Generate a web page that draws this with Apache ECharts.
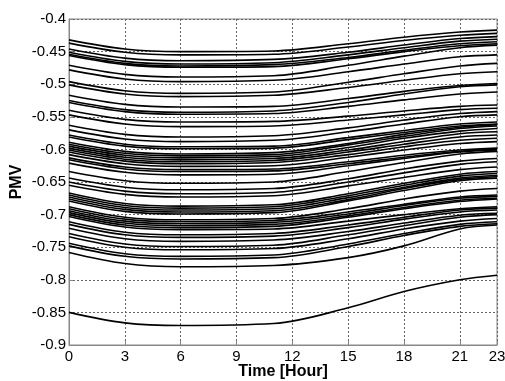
<!DOCTYPE html>
<html>
<head>
<meta charset="utf-8">
<script src="https://cdn.jsdelivr.net/npm/echarts@6/dist/echarts.min.js"></script>
<style>
html,body{margin:0;padding:0;background:#fff;}
#chart{width:505px;height:381px;}
</style>
</head>
<body>
<div id="chart"></div>
<script>
const hours = [0, 3, 6, 11, 15, 18, 21, 23];
const xTicks = [0, 3, 6, 9, 12, 15, 18, 21, 23];
const yMin = -0.9, yMax = -0.4, yStep = 0.05;

// PMV values of each curve, read at the hours above
const pmv01 = [-0.432,-0.446,-0.450,-0.449,-0.438,-0.428,-0.420,-0.417];
const pmv02 = [-0.437,-0.451,-0.455,-0.454,-0.443,-0.433,-0.425,-0.422];
const pmv03 = [-0.446,-0.460,-0.464,-0.462,-0.451,-0.440,-0.430,-0.427];
const pmv04 = [-0.451,-0.465,-0.469,-0.467,-0.455,-0.444,-0.434,-0.431];
const pmv05 = [-0.454,-0.468,-0.472,-0.470,-0.459,-0.448,-0.438,-0.435];
const pmv06 = [-0.456,-0.470,-0.474,-0.473,-0.461,-0.450,-0.441,-0.438];
const pmv07 = [-0.471,-0.485,-0.489,-0.487,-0.471,-0.457,-0.444,-0.440];
const pmv08 = [-0.478,-0.492,-0.496,-0.494,-0.481,-0.469,-0.458,-0.455];
const pmv09 = [-0.496,-0.510,-0.514,-0.512,-0.497,-0.484,-0.472,-0.468];
const pmv10 = [-0.501,-0.515,-0.519,-0.517,-0.505,-0.494,-0.484,-0.481];
const pmv11 = [-0.517,-0.531,-0.535,-0.534,-0.522,-0.511,-0.502,-0.499];
const pmv12 = [-0.525,-0.539,-0.543,-0.541,-0.528,-0.515,-0.504,-0.501];
const pmv13 = [-0.528,-0.542,-0.546,-0.545,-0.534,-0.524,-0.515,-0.512];
const pmv14 = [-0.540,-0.554,-0.558,-0.557,-0.549,-0.541,-0.534,-0.532];
const pmv15 = [-0.547,-0.561,-0.565,-0.564,-0.555,-0.547,-0.539,-0.537];
const pmv16 = [-0.563,-0.577,-0.581,-0.579,-0.567,-0.555,-0.545,-0.542];
const pmv17 = [-0.570,-0.584,-0.588,-0.586,-0.573,-0.561,-0.550,-0.547];
const pmv18 = [-0.578,-0.592,-0.596,-0.595,-0.582,-0.571,-0.561,-0.558];
const pmv19 = [-0.581,-0.595,-0.599,-0.598,-0.585,-0.574,-0.564,-0.561];
const pmv20 = [-0.589,-0.603,-0.607,-0.605,-0.591,-0.577,-0.566,-0.562];
const pmv21 = [-0.592,-0.606,-0.610,-0.608,-0.593,-0.580,-0.568,-0.564];
const pmv22 = [-0.595,-0.609,-0.613,-0.611,-0.597,-0.583,-0.572,-0.568];
const pmv23 = [-0.598,-0.612,-0.616,-0.614,-0.601,-0.588,-0.576,-0.573];
const pmv24 = [-0.601,-0.615,-0.619,-0.617,-0.604,-0.592,-0.581,-0.578];
const pmv25 = [-0.604,-0.618,-0.622,-0.620,-0.608,-0.596,-0.586,-0.583];
const pmv26 = [-0.608,-0.622,-0.626,-0.625,-0.612,-0.601,-0.591,-0.588];
const pmv27 = [-0.613,-0.627,-0.631,-0.630,-0.619,-0.609,-0.601,-0.598];
const pmv28 = [-0.616,-0.630,-0.634,-0.633,-0.622,-0.612,-0.603,-0.600];
const pmv29 = [-0.621,-0.635,-0.639,-0.638,-0.625,-0.614,-0.604,-0.601];
const pmv30 = [-0.634,-0.648,-0.652,-0.650,-0.634,-0.620,-0.607,-0.603];
const pmv31 = [-0.644,-0.658,-0.662,-0.660,-0.645,-0.630,-0.618,-0.614];
const pmv32 = [-0.650,-0.664,-0.668,-0.666,-0.650,-0.636,-0.623,-0.619];
const pmv33 = [-0.655,-0.669,-0.673,-0.671,-0.656,-0.643,-0.631,-0.627];
const pmv34 = [-0.667,-0.683,-0.687,-0.685,-0.668,-0.652,-0.638,-0.634];
const pmv35 = [-0.670,-0.686,-0.690,-0.688,-0.671,-0.655,-0.641,-0.637];
const pmv36 = [-0.673,-0.689,-0.693,-0.691,-0.674,-0.658,-0.644,-0.640];
const pmv37 = [-0.676,-0.692,-0.696,-0.694,-0.677,-0.660,-0.646,-0.642];
const pmv38 = [-0.679,-0.695,-0.699,-0.697,-0.679,-0.663,-0.648,-0.644];
const pmv39 = [-0.688,-0.704,-0.708,-0.706,-0.691,-0.676,-0.664,-0.660];
const pmv40 = [-0.691,-0.707,-0.711,-0.709,-0.696,-0.684,-0.673,-0.670];
const pmv41 = [-0.694,-0.710,-0.714,-0.712,-0.699,-0.686,-0.675,-0.672];
const pmv42 = [-0.697,-0.713,-0.717,-0.715,-0.702,-0.689,-0.678,-0.675];
const pmv43 = [-0.700,-0.716,-0.720,-0.718,-0.704,-0.691,-0.680,-0.676];
const pmv44 = [-0.703,-0.719,-0.723,-0.722,-0.710,-0.700,-0.691,-0.688];
const pmv45 = [-0.711,-0.727,-0.731,-0.729,-0.716,-0.704,-0.693,-0.690];
const pmv46 = [-0.715,-0.731,-0.735,-0.733,-0.720,-0.707,-0.696,-0.693];
const pmv47 = [-0.721,-0.737,-0.741,-0.739,-0.726,-0.713,-0.701,-0.698];
const pmv48 = [-0.729,-0.745,-0.749,-0.747,-0.731,-0.717,-0.704,-0.700];
const pmv49 = [-0.734,-0.750,-0.754,-0.752,-0.737,-0.722,-0.710,-0.706];
const pmv50 = [-0.744,-0.760,-0.764,-0.762,-0.745,-0.729,-0.715,-0.711];
const pmv51 = [-0.748,-0.764,-0.768,-0.766,-0.749,-0.732,-0.718,-0.714];
const pmv52 = [-0.758,-0.775,-0.780,-0.778,-0.766,-0.748,-0.722,-0.716];
const pmv53 = [-0.850,-0.866,-0.870,-0.867,-0.843,-0.818,-0.800,-0.793];

const curves = [pmv01,pmv02,pmv03,pmv04,pmv05,pmv06,pmv07,pmv08,pmv09,pmv10,
  pmv11,pmv12,pmv13,pmv14,pmv15,pmv16,pmv17,pmv18,pmv19,pmv20,
  pmv21,pmv22,pmv23,pmv24,pmv25,pmv26,pmv27,pmv28,pmv29,pmv30,
  pmv31,pmv32,pmv33,pmv34,pmv35,pmv36,pmv37,pmv38,pmv39,pmv40,
  pmv41,pmv42,pmv43,pmv44,pmv45,pmv46,pmv47,pmv48,pmv49,pmv50,
  pmv51,pmv52,pmv53];

const FONT = '"Liberation Sans", Arial, sans-serif';
const chart = echarts.init(document.getElementById('chart'), null, {renderer: 'canvas'});

const series = curves.map(function (c, i) {
  return {
    type: 'line',
    name: 'c' + (i + 1),
    data: hours.map(function (h, j) { return [h, c[j]]; }),
    showSymbol: false,
    smooth: 0.35,
    lineStyle: {color: '#000', width: 1.6},
    emphasis: {disabled: true},
    animation: false,
    z: 3
  };
});

chart.setOption({
  backgroundColor: '#fff',
  animation: false,
  grid: {left: 69, right: 8, top: 19, bottom: 36, outerBoundsMode: 'none', containLabel: false,
    show: true, borderColor: '#888', borderWidth: 1, backgroundColor: 'transparent'},
  xAxis: {
    type: 'value', min: 0, max: 23, interval: 3,
    name: 'Time [Hour]', nameLocation: 'middle', nameGap: 19, nameMoveOverlap: false,
    nameTextStyle: {fontFamily: FONT, fontSize: 16, fontWeight: 'bold', color: '#000'},
    axisLine: {show: true, lineStyle: {color: '#888'}},
    axisTick: {show: true, inside: true, length: 4, lineStyle: {color: '#888'}, customValues: xTicks},
    axisLabel: {fontFamily: FONT, fontSize: 15, color: '#000', margin: 4, customValues: xTicks, formatter: function (v) { return String(v); }},
    splitLine: {show: true, lineStyle: {color: '#666', type: [2, 2], width: 1}}
  },
  yAxis: {
    type: 'value', min: yMin, max: yMax, interval: yStep,
    name: 'PMV', nameLocation: 'middle', nameGap: 44, nameMoveOverlap: false,
    nameTextStyle: {fontFamily: FONT, fontSize: 16, fontWeight: 'bold', color: '#000'},
    axisLine: {show: true, lineStyle: {color: '#888'}},
    axisTick: {show: true, inside: true, length: 4, lineStyle: {color: '#888'}},
    axisLabel: {fontFamily: FONT, fontSize: 15, color: '#000', margin: 3,
      formatter: function (v) { return String(parseFloat(v.toFixed(2))); }},
    splitLine: {show: true, lineStyle: {color: '#666', type: [2, 2], width: 1}}
  },
  series: series
});
</script>
</body>
</html>
